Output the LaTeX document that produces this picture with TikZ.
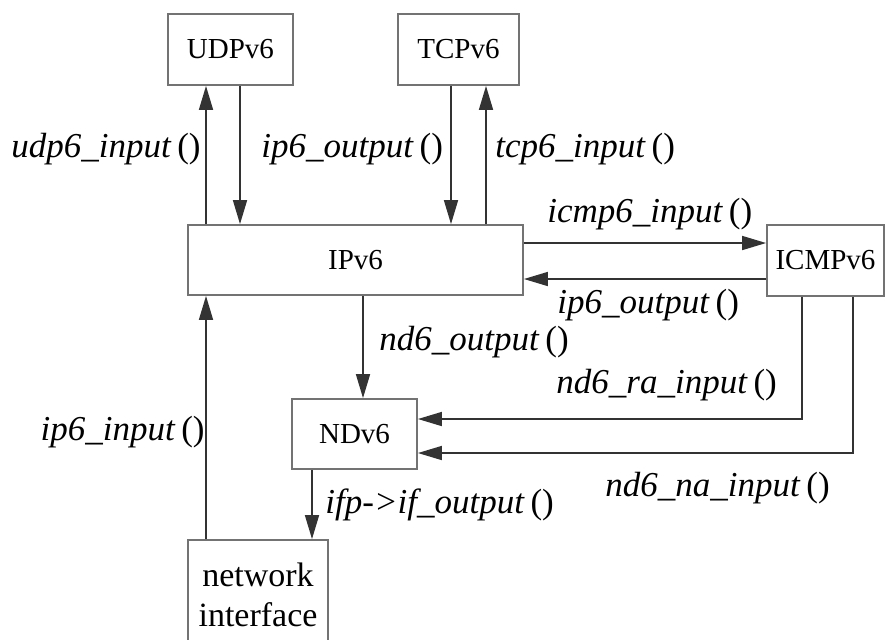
\documentclass[tikz,border=0pt]{standalone}
\usepackage{fontspec}
\setmainfont{Liberation Serif}
\usetikzlibrary{arrows.meta}
\tikzset{
  box/.style={draw=black!55, line width=0.9pt, rectangle, inner sep=0pt, font=\fontsize{14.5}{18}\selectfont, align=center},
  arr/.style={draw=black!80, line width=0.8pt, -{Triangle[length=12pt,width=7pt]}},
  lbl/.style={inner sep=0pt, font=\fontsize{17.5}{20}\selectfont},
}
\newcommand{\fn}[1]{\textit{#1}\,()}
\begin{document}
\begin{tikzpicture}[x=0.5pt,y=-0.5pt]
\useasboundingbox (0,0) rectangle (886,639);
\clip (0,0) rectangle (886,639);
% boxes
\node[box, minimum width=62.5pt, minimum height=35.5pt] (udp) at (230.5,49.5) {UDPv6};
\node[box, minimum width=60.5pt, minimum height=35.5pt] (tcp) at (458.5,49.5) {TCPv6};
\node[box, minimum width=167.5pt, minimum height=35pt] (ipv6) at (355.5,260) {IPv6};
\node[box, minimum width=58.5pt, minimum height=35.5pt] (icmp) at (825.5,260.5) {ICMPv6};
\node[box, minimum width=62.5pt, minimum height=35pt] (nd) at (354.5,434) {NDv6};
\node[box, minimum width=70pt, minimum height=55pt, font=\fontsize{17}{20}\selectfont] (netif) at (258,595) {network\\interface};
% helper coordinates
\coordinate (u1) at ([xshift=-12.25pt]udp.south);
\coordinate (u2) at ([xshift=4.75pt]udp.south);
\coordinate (t1) at ([xshift=-3.75pt]tcp.south);
\coordinate (t2) at ([xshift=13.75pt]tcp.south);
\coordinate (n1) at ([xshift=4.25pt]nd.north);
\coordinate (f1) at ([xshift=-21.25pt]nd.south);
\coordinate (w1) at ([xshift=-26pt]netif.north);
% connectors
\draw[arr] (u1 |- ipv6.north) -- (u1);
\draw[arr] (u2) -- (u2 |- ipv6.north);
\draw[arr] (t1) -- (t1 |- ipv6.north);
\draw[arr] (t2 |- ipv6.north) -- (t2);
\draw[arr] ([yshift=8.5pt]ipv6.east) -- ([yshift=8.5pt]ipv6.east -| icmp.west);
\draw[arr] ([yshift=-9.5pt]ipv6.east -| icmp.west) -- ([yshift=-9.5pt]ipv6.east);
\draw[arr] (n1 |- ipv6.south) -- (n1);
\draw[arr] ([xshift=-11.75pt]icmp.south) |- ([yshift=7.5pt]nd.east);
\draw[arr] ([xshift=13.75pt]icmp.south) |- ([yshift=-9.5pt]nd.east);
\draw[arr] (f1) -- (f1 |- netif.north);
\draw[arr] (w1) -- (w1 |- ipv6.south);
% labels
\node[lbl, anchor=east] (l1) at (201,149) {\fn{udp6\_input}};
\node[lbl, anchor=west] (l2) at (261,149) {\fn{ip6\_output}};
\node[lbl, anchor=west] (l3) at (495,149) {\fn{tcp6\_input}};
\node[lbl, anchor=west] (l4) at (547,214) {\fn{icmp6\_input}};
\node[lbl, anchor=west] (l5) at (557,305) {\fn{ip6\_output}};
\node[lbl, anchor=west] (l6) at (379,342) {\fn{nd6\_output}};
\node[lbl, anchor=west] (l7) at (556,385) {\fn{nd6\_ra\_input}};
\node[lbl, anchor=west] (l8) at (605,488) {\fn{nd6\_na\_input}};
\node[lbl, anchor=east] (l9) at (205,432) {\fn{ip6\_input}};
\node[lbl, anchor=west] (l10) at (325,505) {\fn{ifp->if\_output}};
\end{tikzpicture}
\end{document}
